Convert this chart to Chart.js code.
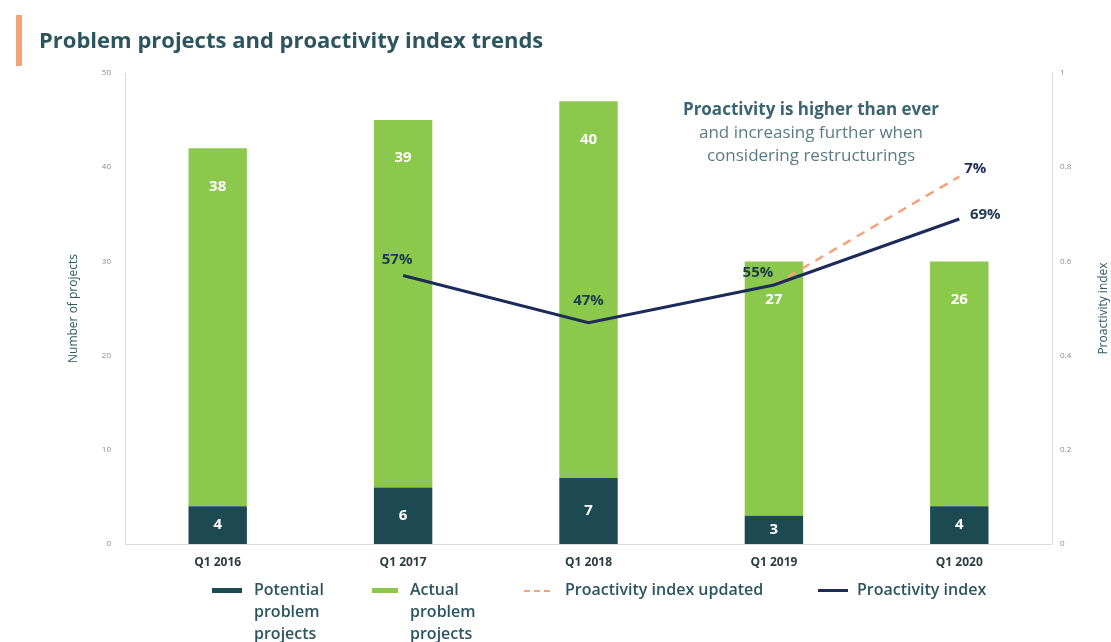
<!DOCTYPE html>
<html>
<head>
<meta charset="utf-8">
<script src="https://cdn.jsdelivr.net/npm/chart.js@4.4.1/dist/chart.umd.min.js"></script>
<style>
  body { margin: 0; background: #fff; font-family: "Open Sans", sans-serif; }
  #wrap { position: relative; width: 1111px; height: 642px; overflow: hidden; }
  #myChart { position: absolute; left: 0; top: 0; }
  .accent { position: absolute; left: 16px; top: 15px; width: 6px; height: 51px; background: #f4a27c; }
  .title { position: absolute; left: 39px; top: 24px; font-size: 22px; font-weight: 700; color: #2d5560; letter-spacing: 0px; }
  .note { position: absolute; left: 661px; top: 97px; width: 300px; text-align: center; font-size: 17px; line-height: 23px; color: #5b7b82; }
  .note b { color: #3b6470; }
  .legend-item { position: absolute; top: 578px; font-size: 16px; font-weight: 600; color: #2d5560; line-height: 22px; }
  .swatch { position: absolute; height: 5px; top: 588px; }
</style>
</head>
<body>
<div id="wrap">
  <canvas id="myChart" width="1111" height="642"></canvas>
  <div class="accent"></div>
  <div class="title">Problem projects and proactivity index trends</div>
  <div class="note"><b>Proactivity is higher than ever</b><br>and increasing further when<br>considering restructurings</div>

  <div class="swatch" style="left:212px;width:30px;background:#1d4a50"></div>
  <div class="legend-item" style="left:254px">Potential<br>problem<br>projects</div>
  <div class="swatch" style="left:372px;width:26px;background:#8cc84b"></div>
  <div class="legend-item" style="left:410px">Actual<br>problem<br>projects</div>
  <div class="swatch" style="left:524px;width:26px;height:0;border-top:2px dashed #f4a27c;top:590px"></div>
  <div class="legend-item" style="left:565px">Proactivity index updated</div>
  <div class="swatch" style="left:818px;width:30px;height:3px;top:589px;background:#1c2b5a"></div>
  <div class="legend-item" style="left:857px">Proactivity index</div>
</div>
<script>
// values
const categories = ["Q1 2016", "Q1 2017", "Q1 2018", "Q1 2019", "Q1 2020"];
const potentialProjects = [4, 6, 7, 3, 4];
const actualProjects = [38, 39, 40, 27, 26];
const proactivityIndex = [null, 0.57, 0.47, 0.55, 0.69];
const proactivityUpdated = [null, null, null, 0.55, 0.78];
const indexLabels = [null, "57%", "47%", "55%", "69%"];
const updatedLabels = [null, null, null, null, "7%"];

// label placement for the line values (offset from the point, px)
const indexLabelShift = [null, [-6, -16], [0, -22], [-16, -12], [26, -4]];
const updatedLabelShift = [null, null, null, null, [16, -8]];

const valueLabels = {
  id: "valueLabels",
  afterDatasetsDraw(chart) {
    const ctx = chart.ctx;
    ctx.save();
    ctx.textAlign = "center";
    ctx.textBaseline = "middle";

    // bar values
    ctx.fillStyle = "#ffffff";
    ctx.font = "bold 15px 'Open Sans'";
    chart.getDatasetMeta(0).data.forEach((bar, i) => {
      ctx.fillText(potentialProjects[i], bar.x, (bar.y + bar.base) / 2);
    });
    chart.getDatasetMeta(1).data.forEach((bar, i) => {
      ctx.fillText(actualProjects[i], bar.x, bar.y + 38);
    });

    // line values
    ctx.font = "bold 15px 'Open Sans'";
    ctx.fillStyle = "#1e3a52";
    chart.getDatasetMeta(2).data.forEach((pt, i) => {
      if (!indexLabels[i]) return;
      ctx.fillText(indexLabels[i], pt.x + indexLabelShift[i][0], pt.y + indexLabelShift[i][1]);
    });
    ctx.fillStyle = "#1c2b5a";
    chart.getDatasetMeta(3).data.forEach((pt, i) => {
      if (!updatedLabels[i]) return;
      ctx.fillText(updatedLabels[i], pt.x + updatedLabelShift[i][0], pt.y + updatedLabelShift[i][1]);
    });

    // right axis title, reading bottom to top like the left one
    const y1 = chart.scales.y1;
    ctx.translate(1104, (y1.top + y1.bottom) / 2);
    ctx.rotate(-Math.PI / 2);
    ctx.font = "12px 'Open Sans'";
    ctx.fillStyle = "#2e5a66";
    ctx.fillText("Proactivity index", 0, 0);
    ctx.restore();
  },
};

const ctx = document.getElementById("myChart").getContext("2d");
const myChart = new Chart(ctx, {
  type: "bar",
  data: {
    labels: categories,
    datasets: [
      {
        label: "Potential problem projects",
        data: potentialProjects,
        backgroundColor: "#1d4a50",
        yAxisID: "y",
        order: 2,
      },
      {
        label: "Actual problem projects",
        data: actualProjects,
        backgroundColor: "#8cc84b",
        yAxisID: "y",
        order: 2,
      },
      {
        type: "line",
        label: "Proactivity index",
        data: proactivityIndex,
        borderColor: "#1c2b5a",
        borderWidth: 3,
        pointRadius: 0,
        yAxisID: "y1",
        order: 0,
      },
      {
        type: "line",
        label: "Proactivity index updated",
        data: proactivityUpdated,
        borderColor: "#f4a27c",
        borderWidth: 2.5,
        borderDash: [9, 7],
        pointRadius: 0,
        yAxisID: "y1",
        order: 1,
      },
    ],
  },
  options: {
    responsive: false,
    animation: false,
    datasets: {
      bar: { categoryPercentage: 1, barPercentage: 0.315 },
    },
    layout: { padding: { left: 62, top: 73, right: 0, bottom: 68 } },
    plugins: {
      legend: { display: false },
      tooltip: { enabled: false },
    },
    scales: {
      x: {
        stacked: true,
        grid: { display: false, drawTicks: false },
        border: { display: true, color: "#dcdcdc" },
        ticks: {
          padding: 11,
          color: "#2b3c42",
          font: { family: "Open Sans", size: 12, weight: "bold" },
        },
        afterFit: (scale) => { scale.height = 30; },
      },
      y: {
        stacked: true,
        position: "left",
        min: 0,
        max: 50,
        grid: { display: false, drawTicks: false },
        border: { display: true, color: "#dcdcdc" },
        ticks: {
          stepSize: 10,
          padding: 14,
          color: "#8a8a8a",
          font: { family: "Open Sans", size: 8 },
        },
        title: {
          display: true,
          text: "Number of projects",
          color: "#2e5a66",
          font: { family: "Open Sans", size: 12 },
        },
        afterFit: (scale) => { scale.width = 63; },
      },
      y1: {
        position: "right",
        min: 0,
        max: 1,
        grid: { display: false, drawTicks: false },
        border: { display: true, color: "#dcdcdc" },
        ticks: {
          stepSize: 0.2,
          padding: 8,
          color: "#8a8a8a",
          font: { family: "Open Sans", size: 8 },
          callback: (value) => String(Math.round(value * 10) / 10),
        },
        afterFit: (scale) => { scale.width = 59; },
      },
    },
  },
  plugins: [valueLabels],
});
</script>
</body>
</html>
